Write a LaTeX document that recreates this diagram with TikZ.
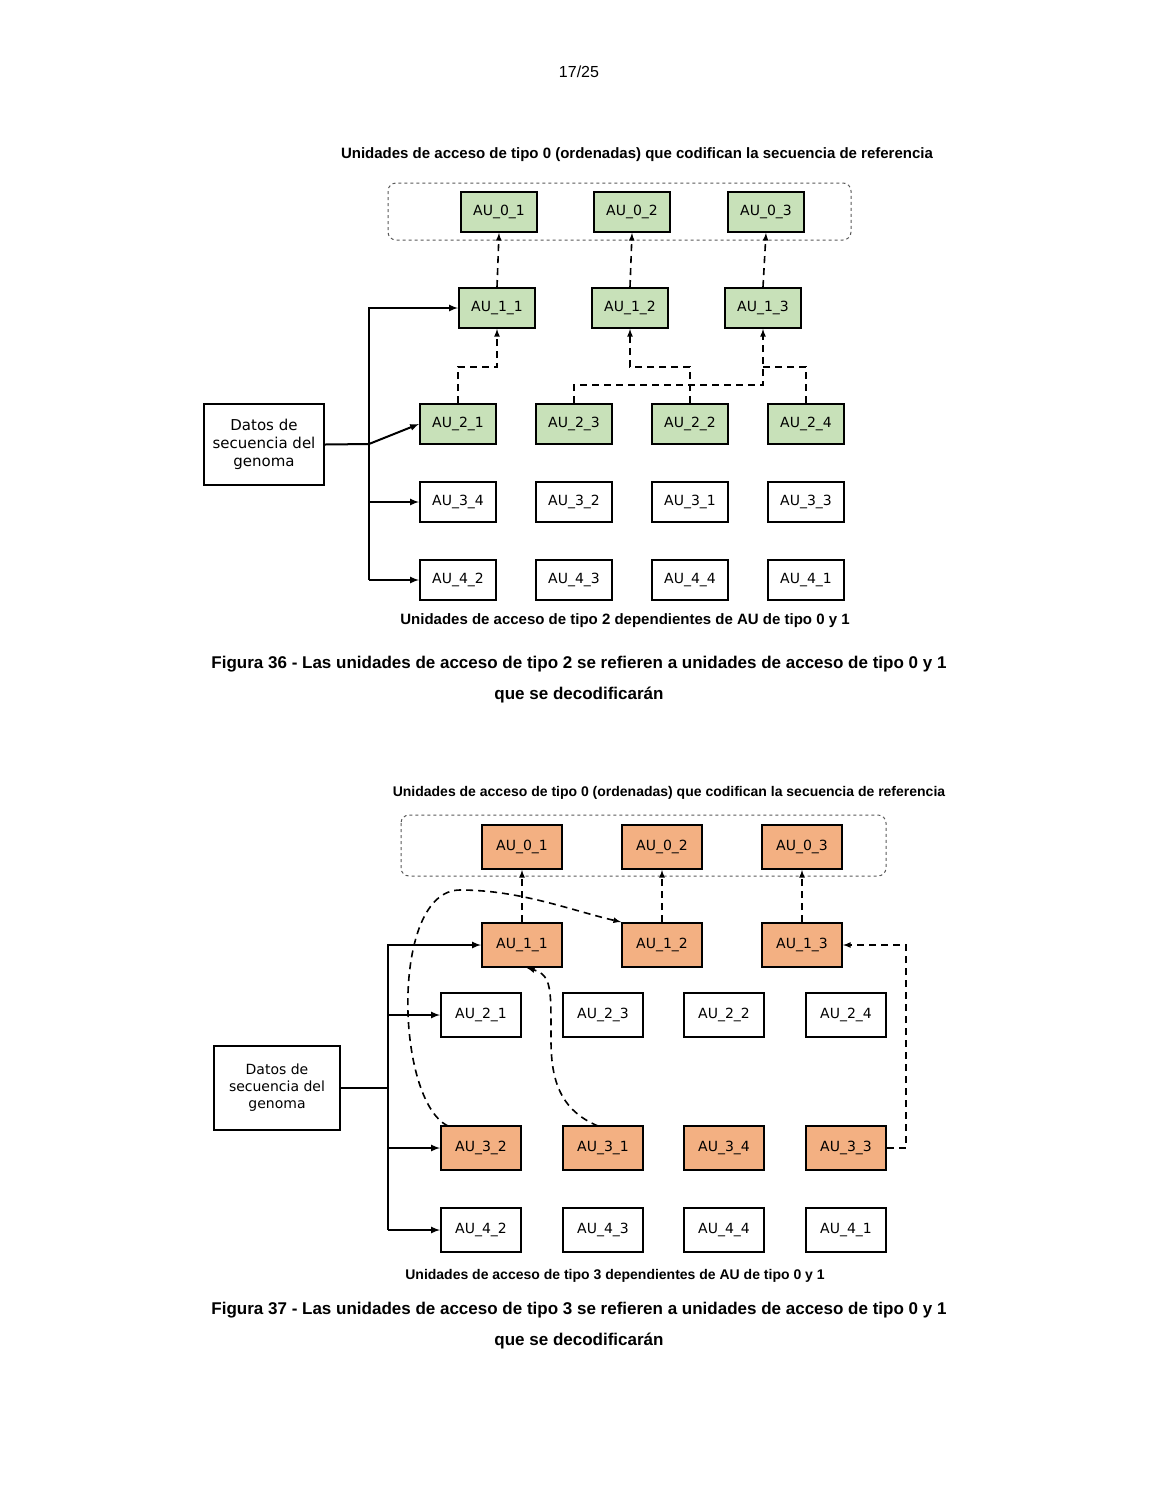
\documentclass[tikz,border=0pt]{standalone}
\usepackage{fontspec}
\setmainfont{Liberation Sans}
\newfontfamily\boxfont{DejaVu Sans}
\begin{document}
\begin{tikzpicture}[x=1pt,y=-1pt,>=latex,
 au/.style={draw,line width=2pt,minimum width=76pt,minimum height=40pt,inner sep=0pt,font=\boxfont\fontsize{14}{16}\selectfont},
 g/.style={au,fill={rgb,255:red,200;green,225;blue,185}},
 o/.style={au,fill={rgb,255:red,243;green,176;blue,130}},
 w/.style={au,fill=white},
 dsh/.style={dash pattern=on 7pt off 5pt,line width=1.6pt},
 sol/.style={line width=2pt},
 lbl/.style={font=\bfseries\fontsize{15}{18}\selectfont},
 figcap/.style={font=\bfseries\fontsize{17}{20}\selectfont}]
\useasboundingbox (0,0) rectangle (1159,1500);
\node[font=\fontsize{16}{18}\selectfont] (pg) at (579,72) {17/25};
% ===== Figure 36 =====
\node[lbl] (t1) at (637,155) {Unidades de acceso de tipo 0 (ordenadas) que codifican la secuencia de referencia};
\draw[dashed,rounded corners=8pt,gray!70!black,line width=1pt] (388,183) rectangle (851,240);
\node[g] (a01) at (499,212) {AU\_0\_1};
\node[g] (a02) at (632,212) {AU\_0\_2};
\node[g] (a03) at (766,212) {AU\_0\_3};
\node[g] (a11) at (497,308) {AU\_1\_1};
\node[g] (a12) at (630,308) {AU\_1\_2};
\node[g] (a13) at (763,308) {AU\_1\_3};
\node[g] (a21) at (458,424) {AU\_2\_1};
\node[g] (a23) at (574,424) {AU\_2\_3};
\node[g] (a22) at (690,424) {AU\_2\_2};
\node[g] (a24) at (806,424) {AU\_2\_4};
\node[w] (a34) at (458,502) {AU\_3\_4};
\node[w] (a32) at (574,502) {AU\_3\_2};
\node[w] (a31) at (690,502) {AU\_3\_1};
\node[w] (a33) at (806,502) {AU\_3\_3};
\node[w] (a42) at (458,580) {AU\_4\_2};
\node[w] (a43) at (574,580) {AU\_4\_3};
\node[w] (a44) at (690,580) {AU\_4\_4};
\node[w] (a41) at (806,580) {AU\_4\_1};
\node[au,minimum width=120pt,minimum height=81pt,align=center,font=\boxfont\fontsize{15}{18}\selectfont] (d1) at (264,444.5) {Datos de\\secuencia del\\genoma};
\draw[dsh,->] (a11.north) -- (a01.south);
\draw[dsh,->] (a12.north) -- (a02.south);
\draw[dsh,->] (a13.north) -- (a03.south);
\draw[dsh,->] (a21.north) |- (497,367) -- (a11.south);
\draw[dsh,->] (a22.north) |- (630,367) -- (a12.south);
\draw[dsh,->] (a23.north) |- (763,385) -- (a13.south);
\draw[dsh] (a24.north) |- (763,367);
\coordinate (j1) at (369,444);
\draw[sol] (d1.east) -- (j1);
\draw[sol,->] (369,580) |- (a11.west);
\draw[sol,->] (j1) -- (a21.west);
\draw[sol,->] (369,502) -- (a34.west);
\draw[sol,->] (369,580) -- (a42.west);
\node[lbl] (b1) at (625,621) {Unidades de acceso de tipo 2 dependientes de AU de tipo 0 y 1};
\node[figcap] (c1a) at (579,664) {Figura 36 - Las unidades de acceso de tipo 2 se refieren a unidades de acceso de tipo 0 y 1};
\node[figcap] (c1b) at (579,695) {que se decodificarán};
% ===== Figure 37 =====
\node[lbl,font=\bfseries\fontsize{14}{17}\selectfont] (t2) at (669,793) {Unidades de acceso de tipo 0 (ordenadas) que codifican la secuencia de referencia};
\draw[dashed,rounded corners=8pt,gray!70!black,line width=1pt] (401,815) rectangle (886,876);
\tikzset{au/.append style={minimum width=80pt,minimum height=44pt}}
\node[o] (b01) at (522,847) {AU\_0\_1};
\node[o] (b02) at (662,847) {AU\_0\_2};
\node[o] (b03) at (802,847) {AU\_0\_3};
\node[o] (b11) at (522,945) {AU\_1\_1};
\node[o] (b12) at (662,945) {AU\_1\_2};
\node[o] (b13) at (802,945) {AU\_1\_3};
\node[w] (b21) at (481,1015) {AU\_2\_1};
\node[w] (b23) at (603,1015) {AU\_2\_3};
\node[w] (b22) at (724,1015) {AU\_2\_2};
\node[w] (b24) at (846,1015) {AU\_2\_4};
\node[o] (b32) at (481,1148) {AU\_3\_2};
\node[o] (b31) at (603,1148) {AU\_3\_1};
\node[o] (b34) at (724,1148) {AU\_3\_4};
\node[o] (b33) at (846,1148) {AU\_3\_3};
\node[w] (b42) at (481,1230) {AU\_4\_2};
\node[w] (b43) at (603,1230) {AU\_4\_3};
\node[w] (b44) at (724,1230) {AU\_4\_4};
\node[w] (b41) at (846,1230) {AU\_4\_1};
\node[au,minimum width=126pt,minimum height=84pt,align=center,font=\boxfont\fontsize{14}{17}\selectfont] (d2) at (277,1088) {Datos de\\secuencia del\\genoma};
\draw[dsh,->] (b11.north) -- (b01.south);
\draw[dsh,->] (b12.north) -- (b02.south);
\draw[dsh,->] (b13.north) -- (b03.south);
\coordinate (s32) at (448,1126);
\coordinate (s31) at (598,1126);
\draw[dsh,->] (s32) .. controls (395,1100) and (390,890) .. (460,890) .. controls (520,890) and (570,910) .. (b12.north west);
\draw[dsh,->] (s31) .. controls (560,1110) and (551,1080) .. (551,1040) .. controls (551,990) and (552,975) .. ([xshift=5pt]b11.south);
\coordinate (k33) at (906,1148);
\draw[dsh,->] (b33.east) -- (k33) |- (b13.east);
\coordinate (j2) at (388,1088);
\draw[sol] (d2.east) -- (j2);
\draw[sol,->] (388,1230) |- (b11.west);
\draw[sol,->] (388,1015) -- (b21.west);
\draw[sol,->] (388,1148) -- (b32.west);
\draw[sol,->] (388,1230) -- (b42.west);
\node[lbl,font=\bfseries\fontsize{14}{17}\selectfont] (b2) at (615,1276) {Unidades de acceso de tipo 3 dependientes de AU de tipo 0 y 1};
\node[figcap] (c2a) at (579,1310) {Figura 37 - Las unidades de acceso de tipo 3 se refieren a unidades de acceso de tipo 0 y 1};
\node[figcap] (c2b) at (579,1341) {que se decodificarán};
\end{tikzpicture}
\end{document}
